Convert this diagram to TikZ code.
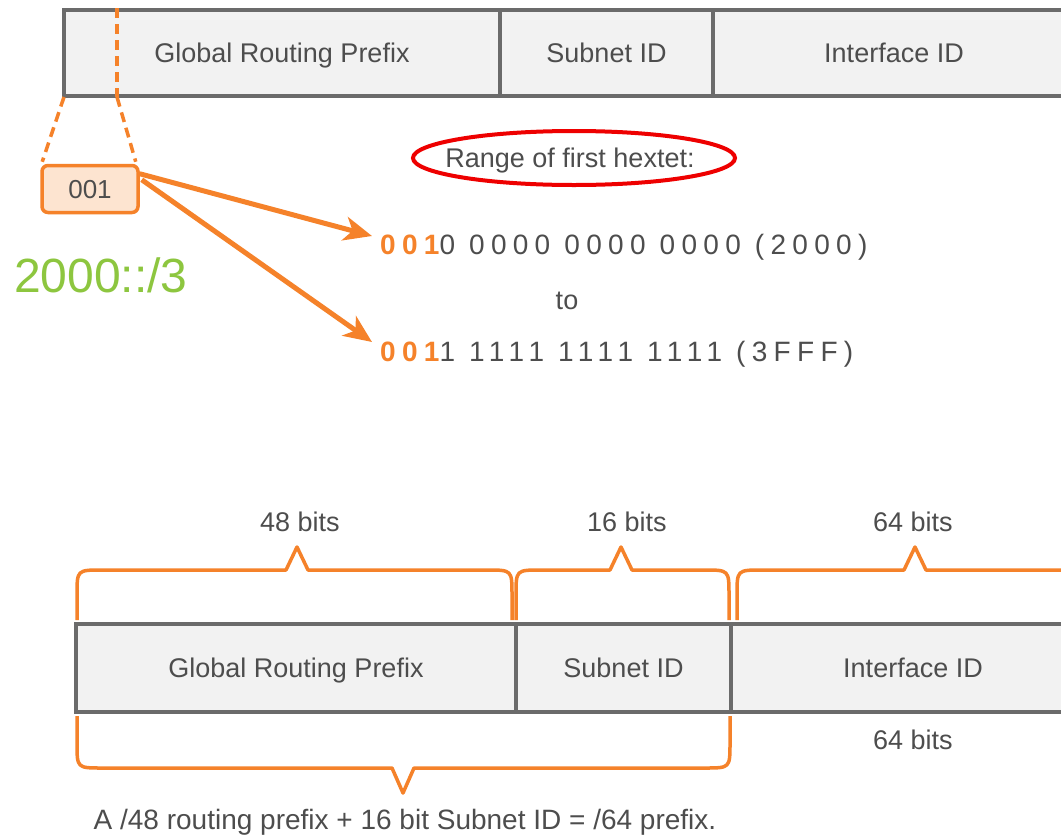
\documentclass[tikz,border=0pt]{standalone}
\usepackage{fontspec}
\setmainfont{Liberation Sans}
\newfontfamily\spaced[LetterSpace=22.5]{Liberation Sans}
\usetikzlibrary{shapes.geometric,arrows.meta,calc}
\definecolor{txt}{HTML}{4D4D4D}
\definecolor{bar}{HTML}{6B6B6B}
\definecolor{barfill}{HTML}{F2F2F2}
\definecolor{org}{HTML}{F5822A}
\definecolor{orgfill}{HTML}{FDE4D0}
\definecolor{grn}{HTML}{8DC63F}
\definecolor{rd}{HTML}{EE0000}
\begin{document}
\begin{tikzpicture}[x=1pt,y=-1pt,
 field/.style={draw=bar, fill=barfill, line width=4pt, minimum height=86pt, inner sep=0pt, text=txt, text height=19.5pt, text depth=0pt, font=\fontsize{27}{32}\selectfont},
 lbl/.style={text=txt, inner sep=0pt, text height=19.5pt, text depth=0pt, font=\fontsize{27}{32}\selectfont},
 brace/.style={draw=org, line width=3.5pt, line join=round},
 dsh/.style={draw=org, line width=3.5pt, dash pattern=on 10pt off 6pt},
 arr/.style={draw=org, line width=5pt, -{Stealth[length=28pt,width=24pt,inset=8pt]}},
 bin/.style={text=txt, inner sep=0pt, font=\fontsize{28}{32}\spaced},
]
\useasboundingbox (0,0) rectangle (1061,836);
\fill[white] (0,0) rectangle (1061,836);
\begin{scope}
\clip (0,0) rectangle (1061,836);
% top bar
\node[field, minimum width=436pt] (gp1) at (282,53) {Global Routing Prefix};
\node[field, minimum width=213pt] (sn1) at (606.5,53) {Subnet ID};
\node[field, minimum width=362pt] (if1) at (894,53) {Interface ID};
% bottom bar
\node[field, minimum width=440pt, minimum height=88pt] (gp2) at (296,668) {Global Routing Prefix};
\node[field, minimum width=215pt, minimum height=88pt] (sn2) at (623.5,668) {Subnet ID};
\node[field, minimum width=364pt, minimum height=88pt] (if2) at (913,668) {Interface ID};
% 64 bits brace (runs off the right edge)
\draw[brace] (737,620) -- (737,595) .. controls (737,570) .. (762,570) -- (904,570) -- (915,547) -- (926,570) -- (1075,570);
\end{scope}

% dashed zoom lines and the 001 box
\node[draw=org, fill=orgfill, line width=3.5pt, rounded corners=6pt, minimum width=96pt, minimum height=47pt, inner sep=0pt, text=txt, text height=19pt, text depth=0pt, font=\fontsize{26}{30}\selectfont] (b001) at (90,189) {001};
\coordinate (dtop) at (117,8);
\coordinate (dbot) at (117,97);
\coordinate (dleft) at (64,97);
\draw[dsh] (dtop) -- (dbot);
\draw[dsh] (dleft) -- ($(b001.north west)+(2,-2)$);
\draw[dsh] (dbot) -- ($(b001.north east)+(-4,-2)$);

% range label
\node[lbl] (range) at (570,158) {Range of first hextet:};
\draw[rd, line width=4pt] ($(range.center)+(4,0)$) ellipse [x radius=161pt, y radius=27pt];

% binary lines
\node[bin, anchor=base west] (bin1) at (380,254) {\textcolor{org}{\bfseries 001}0 0000 0000 0000 (2000)};
\node[lbl] (to) at (567,300) {to};
\node[bin, anchor=base west] (bin2) at (380,361) {\textcolor{org}{\bfseries 001}1 1111 1111 1111 (3FFF)};

\draw[arr] ($(b001.north east)+(0,10)$) -- ($(bin1.base west)+(-8,-18)$);
\draw[arr] ($(b001.north east)+(2,16)$) -- ($(bin2.base west)+(-8,-19)$);

% green prefix
\node[anchor=base west, inner sep=0pt, text=grn, font=\fontsize{48}{55}\selectfont] (pfx) at (14,292) {2000::/3};

% upper braces
\draw[brace] (77,620) -- (77,595) .. controls (77,570) .. (102,570) -- (286,570) -- (297,547) -- (308,570) -- (487,570) .. controls (512,570) .. (512,595) -- (512,620);
\draw[brace] (516,620) -- (516,595) .. controls (516,570) .. (541,570) -- (610,570) -- (621,547) -- (632,570) -- (704,570) .. controls (729,570) .. (729,595) -- (729,620);
\node[lbl] (b48) at (300,522) {48 bits};
\node[lbl] (b16) at (627,522) {16 bits};
\node[lbl] (b64) at (913,522) {64 bits};
\node[lbl] (b64b) at (913,740) {64 bits};

% lower brace
\draw[brace] (77,716) -- (77,743) .. controls (77,768) .. (102,768) -- (392,768) -- (403,793) -- (414,768) -- (705,768) .. controls (730,768) .. (730,743) -- (730,716);
\node[lbl, font=\fontsize{28}{32}\selectfont] (cap) at (405,820) {A /48 routing prefix + 16 bit Subnet ID = /64 prefix.};
\end{tikzpicture}
\end{document}
